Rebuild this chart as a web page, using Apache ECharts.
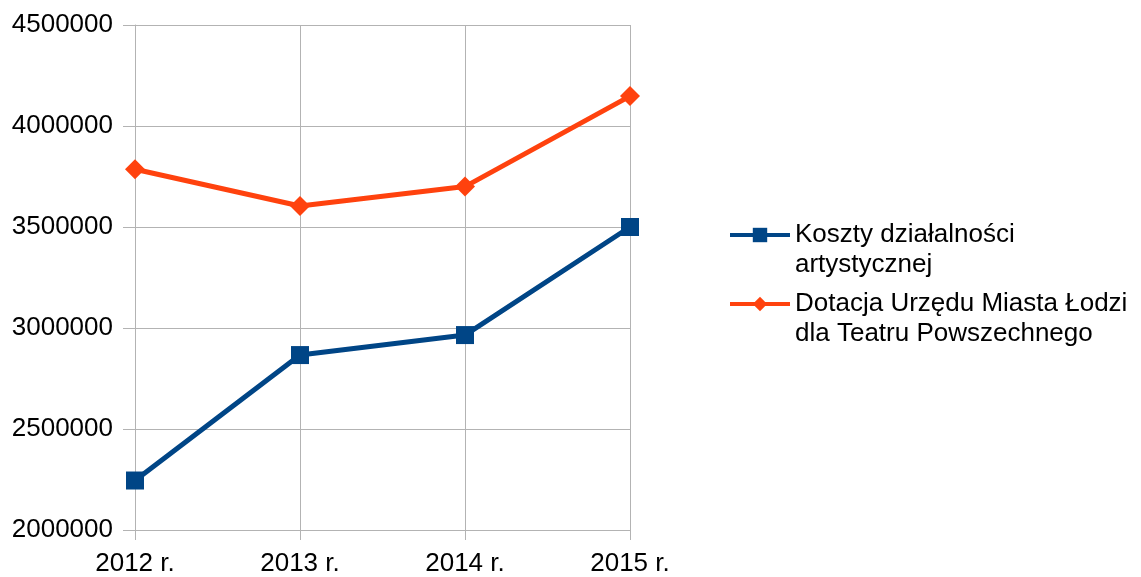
<!DOCTYPE html>
<html>
<head>
<meta charset="utf-8">
<script src="https://cdn.jsdelivr.net/npm/echarts@6/dist/echarts.min.js"></script>
<style>
html, body { margin: 0; padding: 0; background: #fff; }
#chart { width: 1141px; height: 577px; }
</style>
</head>
<body>
<div id="chart"></div>
<script>
// dane
var years = ['2012 r.', '2013 r.', '2014 r.', '2015 r.'];
var koszty = [2245000, 2866000, 2965000, 3500000];
var dotacja = [3786000, 3604000, 3700000, 4148000];
var seriesNames = ['Koszty działalności\nartystycznej', 'Dotacja Urzędu Miasta Łodzi\ndla Teatru Powszechnego'];

var chart = echarts.init(document.getElementById('chart'));
var font = 'Liberation Sans, Arial, sans-serif';

chart.setOption({
    animation: false,
    grid: { left: 135, right: 511, top: 25, bottom: 45 },
    legend: {
        orient: 'vertical',
        left: 723,
        top: 185,
        itemWidth: 60,
        itemHeight: 18,
        itemGap: -21,
        data: seriesNames,
        lineStyle: { width: 4 },
        // pusta pierwsza linia -> ikona na wysokosci pierwszego wiersza
        formatter: function (name) { return ' \n' + name; },
        textStyle: { fontFamily: font, fontSize: 26, color: '#000', lineHeight: 30 }
    },
    xAxis: {
        type: 'category',
        data: years,
        boundaryGap: false,
        axisLine: { lineStyle: { color: '#b3b3b3', width: 1 } },
        axisTick: { show: true, length: 10, lineStyle: { color: '#b3b3b3' } },
        splitLine: { show: true, lineStyle: { color: '#b3b3b3', width: 1 } },
        axisLabel: { fontFamily: font, fontSize: 26, color: '#000', margin: 21 }
    },
    yAxis: {
        type: 'value',
        min: 2000000,
        max: 4500000,
        interval: 500000,
        axisLine: { show: true, lineStyle: { color: '#b3b3b3', width: 1 } },
        axisTick: { show: true, length: 12, lineStyle: { color: '#b3b3b3' } },
        splitLine: { show: true, lineStyle: { color: '#b3b3b3', width: 1 } },
        axisLabel: {
            fontFamily: font, fontSize: 26, color: '#000', margin: 22,
            formatter: function (v) { return String(v); } // bez separatorów tysięcy
        }
    },
    series: [{
        name: seriesNames[0],
        type: 'line',
        data: koszty,
        symbol: 'rect',
        symbolSize: 18,
        color: '#004586',
        lineStyle: { color: '#004586', width: 5 },
        itemStyle: { color: '#004586' }
    }, {
        name: seriesNames[1],
        type: 'line',
        data: dotacja,
        symbol: 'diamond',
        symbolSize: 20,
        color: '#ff420e',
        lineStyle: { color: '#ff420e', width: 5 },
        itemStyle: { color: '#ff420e' }
    }]
});
</script>
</body>
</html>
